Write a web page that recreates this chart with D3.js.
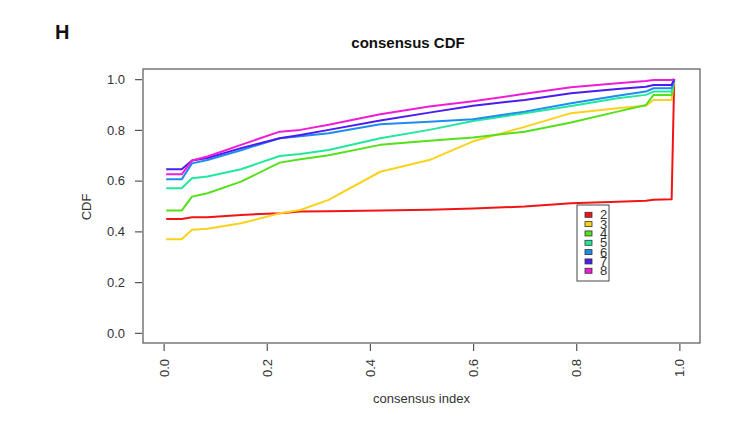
<!DOCTYPE html>
<html>
<head>
<meta charset="utf-8">
<style>
    body { margin: 0; background: #fff; }
    text { font-family: "Liberation Sans", Arial, sans-serif; fill: #333; }
</style>
</head>
<body>
<svg width="731" height="423"></svg>

<script src="https://d3js.org/d3.v7.min.js"></script>
<script>
    // consensus index grid (shared by all k)
    var consensusIndex = [0.005, 0.035, 0.055, 0.085, 0.15, 0.225, 0.265, 0.32, 0.42, 0.515, 0.6, 0.7, 0.79, 0.88, 0.935, 0.95, 0.985, 0.99];

    var k2 = [0.449, 0.449, 0.456, 0.456, 0.465, 0.471, 0.478, 0.479, 0.482, 0.485, 0.490, 0.498, 0.511, 0.517, 0.521, 0.525, 0.527, 1.0];
    var k3 = [0.369, 0.369, 0.406, 0.410, 0.432, 0.471, 0.484, 0.524, 0.635, 0.681, 0.755, 0.812, 0.866, 0.885, 0.895, 0.918, 0.918, 1.0];
    var k4 = [0.482, 0.482, 0.537, 0.550, 0.596, 0.671, 0.684, 0.700, 0.741, 0.757, 0.770, 0.793, 0.829, 0.872, 0.898, 0.938, 0.938, 1.0];
    var k5 = [0.570, 0.570, 0.609, 0.616, 0.645, 0.697, 0.705, 0.721, 0.767, 0.800, 0.835, 0.866, 0.894, 0.925, 0.938, 0.951, 0.951, 1.0];
    var k6 = [0.605, 0.605, 0.668, 0.681, 0.720, 0.767, 0.775, 0.787, 0.822, 0.832, 0.842, 0.872, 0.905, 0.935, 0.951, 0.964, 0.964, 1.0];
    var k7 = [0.645, 0.645, 0.679, 0.689, 0.728, 0.767, 0.780, 0.800, 0.837, 0.868, 0.895, 0.918, 0.944, 0.961, 0.970, 0.977, 0.977, 1.0];
    var k8 = [0.625, 0.625, 0.679, 0.695, 0.741, 0.793, 0.800, 0.820, 0.862, 0.892, 0.913, 0.942, 0.968, 0.984, 0.993, 0.997, 0.997, 1.0];

    var seriesNames = ["2", "3", "4", "5", "6", "7", "8"];
    var seriesValues = [k2, k3, k4, k5, k6, k7, k8];
    var colors = ["#f21414", "#fad21c", "#55e01c", "#22e89c", "#1e8cf0", "#4a1cf0", "#f01cd8"];

    var xTicks = [0, 0.2, 0.4, 0.6, 0.8, 1.0];
    var yTicks = [0, 0.2, 0.4, 0.6, 0.8, 1.0];

    var svg = d3.select("svg");
    var box = { left: 143, right: 700, top: 69, bottom: 343 };

    // R style: 4% padding each side of [0, 1]
    var x = d3.scaleLinear().domain([-0.04, 1.04]).range([box.left, box.right]);
    var y = d3.scaleLinear().domain([-0.04, 1.04]).range([box.bottom, box.top]);

    // panel letter and title
    svg.append("text")
        .attr("x", 55).attr("y", 39)
        .attr("font-size", 20).attr("font-weight", "bold")
        .style("fill", "#111")
        .text("H");

    svg.append("text")
        .attr("x", 408).attr("y", 48)
        .attr("text-anchor", "middle")
        .attr("font-size", 15).attr("font-weight", "bold")
        .style("fill", "#111")
        .text("consensus CDF");

    // lines
    var line = d3.line()
        .x(function (d) { return x(d[0]); })
        .y(function (d) { return y(d[1]); });

    svg.append("g")
        .selectAll("path")
        .data(seriesValues)
        .enter().append("path")
        .attr("fill", "none")
        .attr("stroke", function (d, i) { return colors[i]; })
        .attr("stroke-width", 2)
        .attr("stroke-linejoin", "round")
        .attr("d", function (vals) {
            return line(vals.map(function (v, j) { return [consensusIndex[j], v]; }));
        });

    // plot box
    svg.append("rect")
        .attr("x", box.left).attr("y", box.top)
        .attr("width", box.right - box.left)
        .attr("height", box.bottom - box.top)
        .attr("fill", "none")
        .attr("stroke", "#555")
        .attr("stroke-width", 1.2);

    // y axis
    var yAxis = svg.append("g")
        .attr("transform", "translate(" + (box.left - 1) + ",0)")
        .call(d3.axisLeft(y).tickValues(yTicks).tickSize(7).tickFormat(d3.format(".1f")));
    yAxis.select(".domain").remove();
    yAxis.selectAll("line").attr("stroke", "#555").attr("stroke-width", 1.2);
    yAxis.selectAll("text")
        .attr("x", -17)
        .attr("font-size", 13)
        .style("font-family", "'Liberation Sans', Arial, sans-serif")
        .style("fill", "#333");

    // x axis
    var xAxis = svg.append("g")
        .attr("transform", "translate(0," + (box.bottom + 1) + ")")
        .call(d3.axisBottom(x).tickValues(xTicks).tickSize(7).tickFormat(d3.format(".1f")));
    xAxis.select(".domain").remove();
    xAxis.selectAll("line").attr("stroke", "#555").attr("stroke-width", 1.2);
    xAxis.selectAll("text")
        .attr("transform", "rotate(-90)")
        .attr("text-anchor", "end")
        .attr("x", -15)
        .attr("y", 0)
        .attr("dy", "0.35em")
        .attr("font-size", 13)
        .style("font-family", "'Liberation Sans', Arial, sans-serif")
        .style("fill", "#333");

    // axis titles
    svg.append("text")
        .attr("x", (box.left + box.right) / 2).attr("y", 403)
        .attr("text-anchor", "middle")
        .attr("font-size", 13)
        .text("consensus index");

    svg.append("text")
        .attr("transform", "translate(91," + 207 + ") rotate(-90)")
        .attr("text-anchor", "middle")
        .attr("font-size", 13)
        .text("CDF");

    // legend
    var legend = svg.append("g").attr("transform", "translate(577,205)");
    legend.append("rect")
        .attr("width", 32).attr("height", 76)
        .attr("fill", "#fff")
        .attr("stroke", "#444")
        .attr("stroke-width", 1);

    var rows = legend.selectAll("g.row")
        .data(seriesNames)
        .enter().append("g")
        .attr("class", "row")
        .attr("transform", function (d, i) { return "translate(0," + (9.8 + i * 9.33) + ")"; });

    rows.append("rect")
        .attr("x", 8).attr("y", -2.5)
        .attr("width", 7).attr("height", 5)
        .attr("fill", function (d, i) { return colors[i]; })
        .attr("stroke", "#333")
        .attr("stroke-width", 0.8);

    rows.append("text")
        .attr("x", 23).attr("y", 0)
        .attr("dy", "0.36em")
        .attr("font-size", 13)
        .text(function (d) { return d; });
</script>
</body>
</html>
